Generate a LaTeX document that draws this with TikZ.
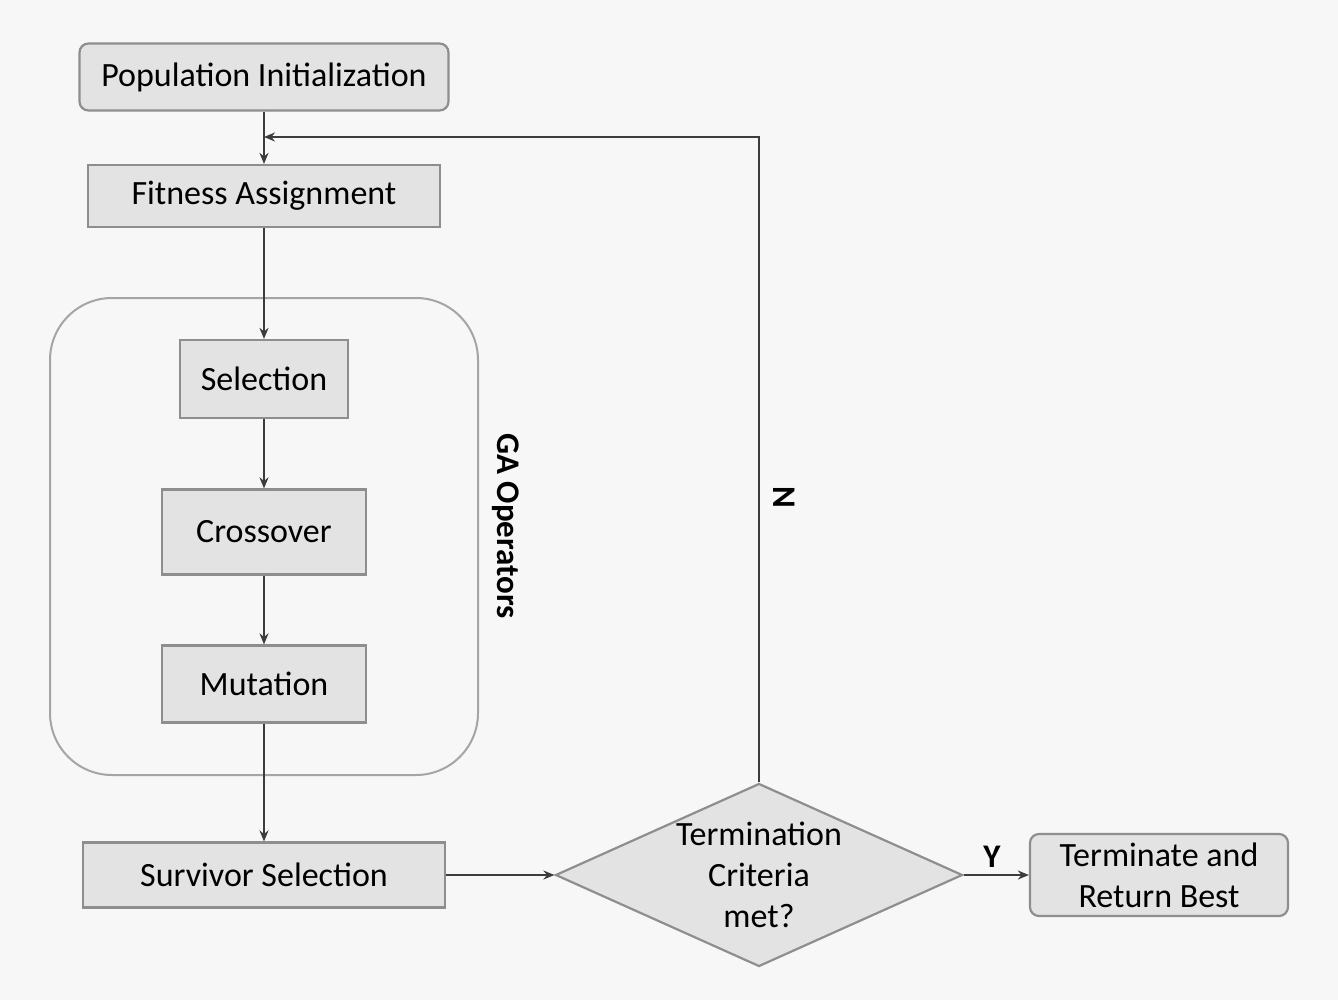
\documentclass[tikz,border=0pt]{standalone}
\usepackage{fontspec}
\setmainfont{Carlito}
\usetikzlibrary{shapes.geometric,arrows.meta}
\definecolor{bgc}{HTML}{F7F7F7}
\definecolor{boxfill}{HTML}{E3E3E3}
\definecolor{boxline}{HTML}{8E8E8E}
\definecolor{linec}{HTML}{3C3C3C}
\tikzset{
  box/.style={draw=boxline, line width=2.2pt, fill=boxfill, inner sep=0pt, align=center,
    font=\fontsize{34}{41}\selectfont},
  rbox/.style={box, rounded corners=9pt},
  flow/.style={draw=linec, line width=2.2pt, -{Stealth[length=11pt,width=9pt]}},
  lbl/.style={font=\fontsize{33}{40}\selectfont\bfseries, text=black}
}
\begin{document}
\begin{tikzpicture}[x=1pt,y=-1pt]
\useasboundingbox (0,0) rectangle (1338,1000);
\fill[bgc] (0,0) rectangle (1338,1000);
% GA operators container
\draw[draw=boxline!80, line width=2pt, rounded corners=62pt] (50,298) rectangle (478,775);
\node[lbl, rotate=-90] (ga) at (506,526) {GA Operators};
% nodes
\node[rbox, minimum width=369pt, minimum height=67pt] (pop) at (264,77) {Population Initialization};
\node[box, minimum width=352pt, minimum height=62pt] (fit) at (264,196) {Fitness Assignment};
\node[box, minimum width=168pt, minimum height=78pt] (sel) at (264,379) {Selection};
\node[box, minimum width=204pt, minimum height=85pt] (cro) at (264,532) {Crossover};
\node[box, minimum width=204pt, minimum height=77pt] (mut) at (264,684) {Mutation};
\node[box, minimum width=362pt, minimum height=65pt] (sur) at (264,875) {Survivor Selection};
\node[diamond, draw=boxline, line width=2.2pt, fill=boxfill, inner sep=0pt,
      minimum width=407pt, minimum height=183pt] (dec) at (759,875) {};
\node[align=center, font=\fontsize{34}{41}\selectfont] (dect) at (759,875) {Termination\\Criteria\\met?};
\node[rbox, minimum width=258pt, minimum height=82pt] (term) at (1159,875) {Terminate and\\Return Best};
% connectors
\coordinate (mergept) at (pop.south |- 0,137);
\draw[flow] (pop.south) -- (fit.north);
\draw[flow] (dec.north) -- (dec.north |- mergept) -- (mergept);
\draw[flow] (fit.south) -- (sel.north);
\draw[flow] (sel.south) -- (cro.north);
\draw[flow] (cro.south) -- (mut.north);
\draw[flow] (mut.south) -- (sur.north);
\draw[flow] (sur.east) -- (dec.west);
\draw[flow] (dec.east) -- (term.west);
\node[lbl, rotate=-90] (nlab) at (784,497) {N};
\node[lbl] (ylab) at (992,857) {Y};
\end{tikzpicture}
\end{document}
